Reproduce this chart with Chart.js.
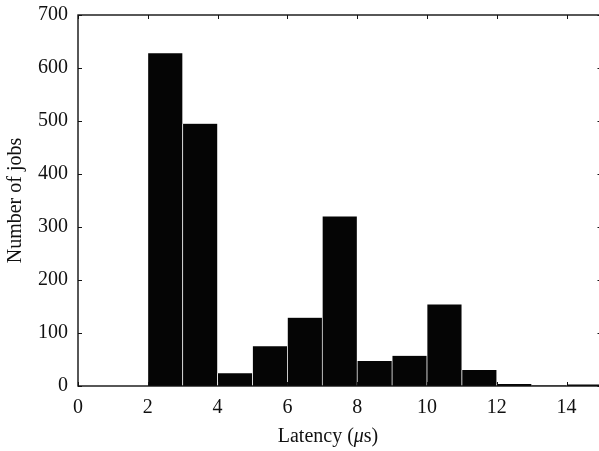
<!DOCTYPE html>
<html>
<head>
<meta charset="utf-8">
<script src="https://cdn.jsdelivr.net/npm/chart.js@4"></script>
<style>
  html, body { margin: 0; padding: 0; background: #fff; overflow: hidden; }
  #wrap { width: 604px; height: 451px; }
</style>
</head>
<body>
<div id="wrap"><canvas id="myChart" width="604" height="451"></canvas></div>
<script>
'use strict';

// ****** data ******
let binCenters = [2.5, 3.5, 4.5, 5.5, 6.5, 7.5, 8.5, 9.5, 10.5, 11.5, 12.5, 13.5, 14.5];
let jobCounts = [628, 495, 24, 75, 129, 320, 47, 57, 154, 30, 4, 1, 3];
let xTicks = [0, 2, 4, 6, 8, 10, 12, 14];
let yTicks = [0, 100, 200, 300, 400, 500, 600, 700];

const FONT = '"Liberation Serif", "DejaVu Serif", serif';
const INK = '#111';

let points = [];
for (let i = 0; i < binCenters.length; i++) {
  points.push({ x: binCenters[i], y: jobCounts[i] });
}

// frame round the plot with inward ticks, plus axis titles
const framePlugin = {
  id: 'frame',
  afterDatasetsDraw(chart) {
    const c = chart.ctx;
    const a = chart.chartArea;
    const xs = chart.scales.x;
    const ys = chart.scales.y;
    const tl = 4;
    c.save();
    c.strokeStyle = INK;
    c.lineWidth = 1.4;
    c.strokeRect(a.left, a.top, a.right - a.left, a.bottom - a.top);
    c.lineWidth = 1;
    c.beginPath();
    xTicks.forEach(v => {
      let px = Math.round(xs.getPixelForValue(v)) + 0.5;
      c.moveTo(px, a.bottom); c.lineTo(px, a.bottom - tl);
      c.moveTo(px, a.top); c.lineTo(px, a.top + tl);
    });
    yTicks.forEach(v => {
      let py = Math.round(ys.getPixelForValue(v)) + 0.5;
      c.moveTo(a.left, py); c.lineTo(a.left + tl, py);
      c.moveTo(a.right, py); c.lineTo(a.right - tl, py);
    });
    c.stroke();

    // y title
    c.fillStyle = INK;
    c.font = '20px ' + FONT;
    c.textAlign = 'center';
    c.textBaseline = 'middle';
    c.save();
    c.translate(16, (a.top + a.bottom) / 2);
    c.rotate(-Math.PI / 2);
    c.fillText('Number of jobs', 0, 0);
    c.restore();

    // x title with italic mu
    let parts = [
      { t: 'Latency (', f: '20px ' + FONT },
      { t: 'μ', f: 'italic 20px ' + FONT },
      { t: 's)', f: '20px ' + FONT }
    ];
    let total = 0;
    parts.forEach(p => { c.font = p.f; p.w = c.measureText(p.t).width; total += p.w; });
    let x = 328 - total / 2;
    c.textAlign = 'left';
    parts.forEach(p => { c.font = p.f; c.fillText(p.t, x, 437); x += p.w; });
    c.restore();
  }
};

const ctx = document.getElementById('myChart').getContext('2d');

let myChartObj = {
  type: 'bar',
  data: {
    datasets: [{
      label: 'Number of jobs',
      data: points,
      backgroundColor: '#050505',
      borderColor: '#ffffff',
      borderWidth: { left: 0.7, right: 0.7, top: 0, bottom: 0 },
      barPercentage: 1,
      categoryPercentage: 1
    }]
  },
  options: {
    responsive: false,
    animation: false,
    layout: { padding: { top: 15, right: 2.5, bottom: 0, left: 0 } },
    plugins: {
      legend: { display: false },
      tooltip: { enabled: false }
    },
    scales: {
      x: {
        type: 'linear',
        offset: false,
        min: 0,
        max: 15,
        grid: { display: false, drawTicks: false },
        border: { display: false },
        afterFit(scale) { scale.height = 65; scale.paddingLeft = 0; scale.paddingRight = 0; },
        afterBuildTicks(scale) { scale.ticks = xTicks.map(v => ({ value: v })); },
        ticks: { padding: 10, color: INK, font: { family: FONT, size: 20 }, maxRotation: 0 }
      },
      y: {
        min: 0,
        max: 700,
        grid: { display: false, drawTicks: false },
        border: { display: false },
        afterFit(scale) { scale.width = 78; scale.paddingTop = 0; scale.paddingBottom = 0; },
        afterBuildTicks(scale) { scale.ticks = yTicks.map(v => ({ value: v })); },
        ticks: { padding: 10, color: INK, font: { family: FONT, size: 20 } }
      }
    }
  },
  plugins: [framePlugin]
};

const myChart = new Chart(ctx, myChartObj);
</script>
</body>
</html>
